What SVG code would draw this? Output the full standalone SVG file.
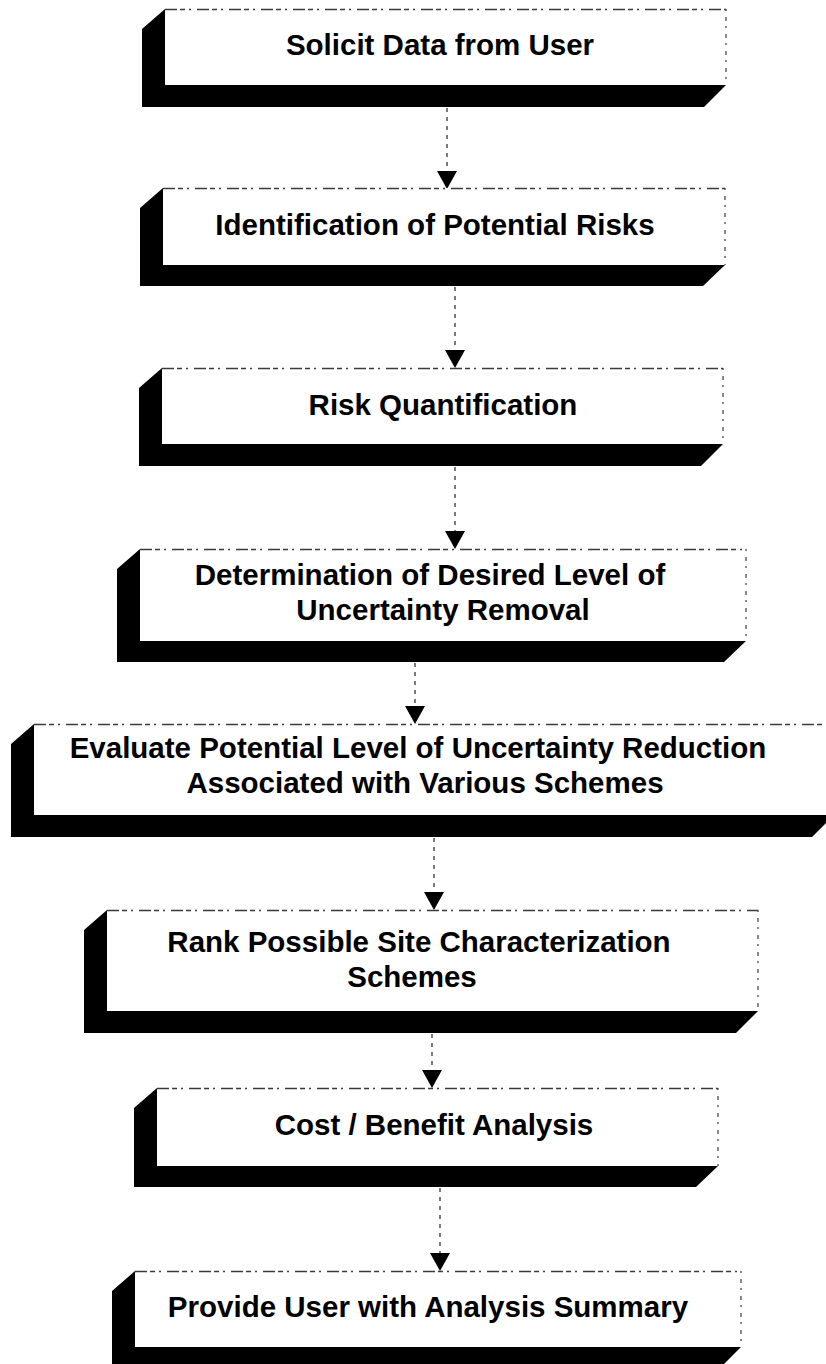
<svg xmlns="http://www.w3.org/2000/svg" width="826" height="1364" viewBox="0 0 826 1364">
  <defs>
    <style>
      .shadow { fill: #000; }
      .face { fill: #fff; stroke: none; }
      .edge-top { fill: none; stroke: #3a3a3a; stroke-width: 1.3; stroke-dasharray: 12 3 5 4 2 6; }
      .edge-right { fill: none; stroke: #3a3a3a; stroke-width: 1.2; stroke-dasharray: 2 6 4 5; }
      .label { font-family: "Liberation Sans", Arial, sans-serif; font-weight: bold; font-size: 29.5px; fill: #000; text-anchor: middle; }
      .link { fill: none; stroke: #222; stroke-width: 1.2; stroke-dasharray: 4 5; }
      .head { fill: #000; }
    </style>
  </defs>
  <rect x="0" y="0" width="826" height="1364" fill="#fff"/>

  <!-- connectors -->
  <g id="connectors">
    <line class="link" x1="447" y1="108" x2="447" y2="172"/>
    <polygon class="head" points="437,171 457,171 447,189"/>
    <line class="link" x1="455" y1="287" x2="455" y2="351"/>
    <polygon class="head" points="445,350 465,350 455,368"/>
    <line class="link" x1="455" y1="467" x2="455" y2="532"/>
    <polygon class="head" points="445,531 465,531 455,549"/>
    <line class="link" x1="415" y1="663" x2="415" y2="707"/>
    <polygon class="head" points="405,706 425,706 415,724"/>
    <line class="link" x1="434" y1="838" x2="434" y2="893"/>
    <polygon class="head" points="424,892 444,892 434,910"/>
    <line class="link" x1="432" y1="1034" x2="432" y2="1071"/>
    <polygon class="head" points="422,1070 442,1070 432,1088"/>
    <line class="link" x1="440" y1="1188" x2="440" y2="1254"/>
    <polygon class="head" points="430,1253 450,1253 440,1271"/>
  </g>

  <!-- process steps: black extruded block behind a white face -->
  <g id="step1">
    <polygon class="shadow" points="165,9 142,29 142,107 704,107 726,85 165,85"/>
    <rect class="face" x="165" y="9" width="561" height="76"/>
    <line class="edge-top" x1="165" y1="9.5" x2="726" y2="9.5"/>
    <line class="edge-right" x1="726" y1="9" x2="726" y2="85"/>
    <text class="label" x="440" y="55">Solicit Data from User</text>
  </g>

  <g id="step2">
    <polygon class="shadow" points="163,188 140,208 140,286 703,286 725,265 163,265"/>
    <rect class="face" x="163" y="188" width="562" height="77"/>
    <line class="edge-top" x1="163" y1="188.5" x2="725" y2="188.5"/>
    <line class="edge-right" x1="725" y1="188" x2="725" y2="265"/>
    <text class="label" x="435" y="235">Identification of Potential Risks</text>
  </g>

  <g id="step3">
    <polygon class="shadow" points="162,368 139,388 139,466 701,466 723,444 162,444"/>
    <rect class="face" x="162" y="368" width="561" height="76"/>
    <line class="edge-top" x1="162" y1="368.5" x2="723" y2="368.5"/>
    <line class="edge-right" x1="723" y1="368" x2="723" y2="444"/>
    <text class="label" x="443" y="415">Risk Quantification</text>
  </g>

  <g id="step4">
    <polygon class="shadow" points="140,549 117,569 117,662 724,662 746,641 140,641"/>
    <rect class="face" x="140" y="549" width="606" height="92"/>
    <line class="edge-top" x1="140" y1="549.5" x2="746" y2="549.5"/>
    <line class="edge-right" x1="746" y1="549" x2="746" y2="641"/>
    <text class="label" x="430" y="585">Determination of Desired Level of</text>
    <text class="label" x="443" y="620">Uncertainty Removal</text>
  </g>

  <g id="step5">
    <polygon class="shadow" points="34,724 11,744 11,837 812,837 834,815 34,815"/>
    <rect class="face" x="34" y="724" width="800" height="91"/>
    <line class="edge-top" x1="34" y1="724.5" x2="834" y2="724.5"/>
    <text class="label" x="418" y="758">Evaluate Potential Level of Uncertainty Reduction</text>
    <text class="label" x="425" y="793">Associated with Various Schemes</text>
  </g>

  <g id="step6">
    <polygon class="shadow" points="107,910 84,930 84,1033 736,1033 758,1011 107,1011"/>
    <rect class="face" x="107" y="910" width="651" height="101"/>
    <line class="edge-top" x1="107" y1="910.5" x2="758" y2="910.5"/>
    <line class="edge-right" x1="758" y1="910" x2="758" y2="1011"/>
    <text class="label" x="419" y="952">Rank Possible Site Characterization</text>
    <text class="label" x="412" y="987">Schemes</text>
  </g>

  <g id="step7">
    <polygon class="shadow" points="157,1088 134,1108 134,1187 696,1187 718,1166 157,1166"/>
    <rect class="face" x="157" y="1088" width="561" height="78"/>
    <line class="edge-top" x1="157" y1="1088.5" x2="718" y2="1088.5"/>
    <line class="edge-right" x1="718" y1="1088" x2="718" y2="1166"/>
    <text class="label" x="434" y="1135">Cost / Benefit Analysis</text>
  </g>

  <g id="step8">
    <polygon class="shadow" points="135,1271 112,1291 112,1369 719,1369 741,1347 135,1347"/>
    <rect class="face" x="135" y="1271" width="606" height="76"/>
    <line class="edge-top" x1="135" y1="1271.5" x2="741" y2="1271.5"/>
    <line class="edge-right" x1="741" y1="1271" x2="741" y2="1347"/>
    <text class="label" x="428" y="1317">Provide User with Analysis Summary</text>
  </g>
</svg>
